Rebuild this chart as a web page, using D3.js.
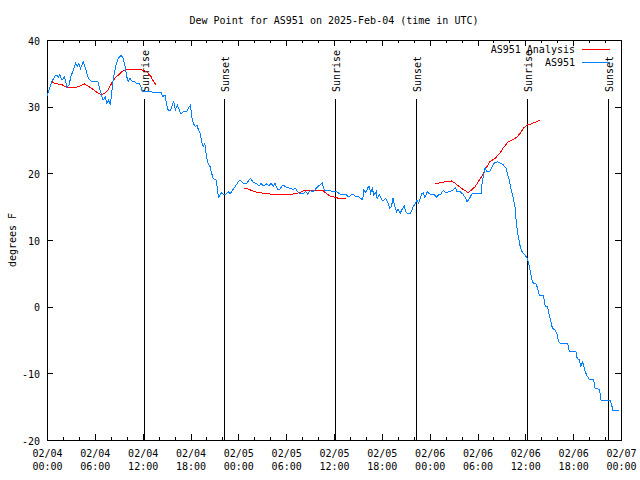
<!DOCTYPE html>
<html><head><meta charset="utf-8">
<script src="https://cdn.jsdelivr.net/npm/d3@7"></script>
<style>
body{margin:0;background:#fff}
svg text{font-family:"DejaVu Sans Mono","Liberation Mono",monospace;font-size:10px;fill:#000}
</style></head><body>
<svg id="c" width="640" height="480"></svg>
<script>
const title = "Dew Point for AS951 on 2025-Feb-04 (time in UTC)";
const yLabel = "degrees F";
const xTickHours = [0,6,12,18,24,30,36,42,48,54,60,66,72];
const xTickDates = ["02/04","02/04","02/04","02/04","02/05","02/05","02/05","02/05","02/06","02/06","02/06","02/06","02/07"];
const xTickTimes = ["00:00","06:00","12:00","18:00","00:00","06:00","12:00","18:00","00:00","06:00","12:00","18:00","00:00"];
const xMinorHours = d3.range(0, 73, 2);
const yTicks = [-20,-10,0,10,20,30,40];
const sunLabels = ["Sunrise","Sunset","Sunrise","Sunset","Sunrise","Sunset"];
const sunHours = [12.22,22.25,36.18,46.3,60.22,70.37];
const seriesNames = ["AS951 Analysis","AS951"];
const seriesColors = ["#ff0000","#0080ff"];

const obsHours = [0.0,0.6,1.0,1.25,1.4,1.6,1.9,2.2,2.5,2.75,3.0,3.3,3.6,3.8,4.0,4.2,4.55,4.77,5.0,5.2,5.6,6.4,6.65,6.9,7.05,7.3,7.5,7.7,7.95,8.1,8.3,8.6,8.95,9.3,9.55,9.8,10.0,10.2,10.4,10.7,11.0,11.25,11.6,11.85,12.0,14.3,14.5,14.8,15.0,15.2,15.5,15.8,15.9,16.1,16.35,16.6,16.8,17.1,17.5,17.85,18.0,18.15,18.35,18.6,18.8,19.0,19.2,19.4,19.6,19.8,20.0,20.2,20.45,20.65,20.85,21.2,21.4,21.5,21.7,21.9,22.1,22.45,22.75,22.95,23.3,23.6,24.0,24.2,24.6,25.05,25.5,25.9,26.3,26.6,26.85,27.1,27.55,27.85,28.1,28.4,28.6,28.9,29.2,29.6,30.05,30.5,30.9,31.2,31.4,31.7,32.15,32.45,32.7,33.0,33.3,33.6,33.95,34.25,34.5,34.8,35.1,35.5,35.9,36.3,36.75,37.1,37.4,37.7,38.0,38.35,38.6,39.05,39.35,39.6,39.75,40.0,40.2,40.4,40.6,40.8,41.0,41.3,41.4,41.7,42.0,42.2,42.5,42.8,43.0,43.2,43.4,43.65,43.85,44.05,44.3,44.5,44.8,45.0,45.3,45.6,45.9,46.2,46.4,46.6,46.8,47.0,47.2,47.4,47.7,48.0,48.25,48.5,48.9,49.1,49.4,49.7,50.05,50.45,50.95,51.25,51.4,51.8,52.15,52.45,52.7,53.0,53.3,53.7,54.45,54.6,54.8,54.95,55.15,55.55,55.8,56.05,56.5,56.8,57.25,57.6,57.8,58.0,58.2,58.45,58.7,58.8,59.0,59.2,59.4,59.65,59.95,60.25,60.5,60.7,60.9,61.35,61.55,61.75,62.25,62.5,62.8,63.0,63.2,63.4,63.7,63.95,64.15,64.35,65.3,65.5,66.35,66.5,66.8,66.95,67.15,67.3,67.5,67.8,68.05,68.55,68.75,69.3,69.5,70.6,70.8,71.0,71.8];
const obsValues = [31.6,33.75,34.6,34.75,34.4,34.75,34.0,34.5,32.9,33.25,34.5,35.5,36.5,36.0,36.5,35.75,36.75,36.0,35.0,34.25,33.75,33.75,32.5,31.5,31.0,31.5,30.5,31.0,30.25,32.0,34.0,36.0,37.25,37.75,37.25,36.0,34.5,33.75,34.25,33.75,33.75,33.5,33.5,32.75,32.25,32.15,31.5,31.75,30.25,29.5,29.5,30.5,30.75,29.5,30.25,29.5,28.9,29.25,29.25,30.0,30.25,28.5,27.5,27.0,27.25,26.5,26.0,24.75,24.0,24.5,22.5,21.5,21.0,20.0,19.25,19.0,17.5,16.4,16.75,17.1,16.9,16.9,17.25,16.9,17.5,18.0,18.75,19.0,18.5,18.5,19.25,18.6,18.5,18.1,18.5,18.1,18.4,18.1,18.5,18.1,18.5,17.6,17.6,18.25,17.9,17.75,17.6,17.75,17.25,17.0,17.0,17.25,16.9,17.4,17.25,17.5,18.0,18.25,18.6,17.4,17.4,17.4,17.25,17.25,16.9,16.75,16.9,16.6,16.6,16.9,16.6,16.5,16.25,16.0,17.5,17.1,17.75,18.1,17.0,17.75,16.75,17.25,16.25,16.75,16.0,15.9,16.25,15.5,14.75,15.0,16.25,15.0,14.25,14.6,14.0,14.5,15.1,14.25,13.9,14.0,14.9,15.5,16.0,15.5,16.25,16.9,17.1,16.4,17.25,16.9,16.75,16.9,16.4,16.75,16.9,17.4,17.1,17.25,17.5,17.85,17.25,17.25,16.9,16.4,15.75,16.25,16.9,17.0,17.0,18.75,20.0,20.9,20.25,20.25,20.9,21.5,21.75,21.6,21.25,20.75,19.75,19.0,17.6,16.5,15.0,13.5,11.25,10.0,8.75,8.1,7.75,7.25,6.0,4.75,3.6,3.4,2.75,1.75,1.75,0.1,0.0,-1.25,-2.25,-3.25,-3.5,-4.0,-5.15,-5.5,-5.5,-6.65,-6.75,-7.75,-8.0,-9.0,-8.25,-8.75,-9.75,-10.5,-10.9,-10.9,-12.25,-12.4,-14.0,-14.0,-14.6,-15.6,-15.6];

const anaHours = [0.6,1.0,1.85,2.5,3.7,4.1,4.7,5.1,5.6,6.0,6.45,6.85,7.3,7.7,8.1,8.5,8.95,9.4,9.8,10.2,11.0,11.9,12.5,13.05,13.3,13.7,
  19,
  24.75,25.25,25.7,26.1,26.6,27.35,28.0,28.6,29.2,29.85,30.5,30.9,31.3,31.75,32.15,32.8,33.4,34.05,34.65,35.1,35.5,36.1,36.6,37.5,
  43,
  48.65,49.3,50.1,50.75,51.2,51.6,52.0,52.45,52.85,53.25,53.7,54.1,54.5,54.95,55.55,56.2,56.8,57.2,57.85,58.5,58.9,59.35,59.75,60.2,60.6,61.2,61.85];
const anaValues = [33.75,33.5,33.3,32.9,32.9,33.1,33.4,33.1,32.75,32.4,32.0,31.75,32.1,32.6,33.5,34.25,34.75,35.25,35.5,35.6,35.6,35.5,35.25,34.5,33.9,33.25,
  null,
  17.75,17.65,17.4,17.25,17.1,17.0,16.9,16.75,16.9,16.9,16.75,16.9,17.0,17.15,17.4,17.4,17.5,17.4,17.4,16.9,16.6,16.4,16.25,16.25,
  null,
  18.4,18.6,18.75,18.85,18.5,18.1,17.75,17.4,17.1,17.5,18.0,18.75,19.5,20.5,21.75,22.25,23.0,23.75,24.75,25.1,25.4,26.0,26.75,27.25,27.35,27.65,28.0];

const L=47, R=621, T=40, B=440;
const svg = d3.select("#c");
const x = d3.scaleLinear().domain([0,72]).range([L,R]);
const y = d3.scaleLinear().domain([-20,40]).range([B,T]);

svg.append("rect").attr("width",640).attr("height",480).attr("fill","#fff");

svg.append("text").attr("x",334).attr("y",24).attr("text-anchor","middle").text(title);
svg.append("text").attr("transform","translate(16,240) rotate(-90)").attr("text-anchor","middle").text(yLabel);

function styleAxis(g){
  g.select(".domain").remove();
  g.selectAll("line").attr("stroke","#000").attr("shape-rendering","crispEdges");
  g.selectAll("text").remove();
}
svg.append("g").attr("transform",`translate(0,${B})`).call(d3.axisBottom(x).tickValues(xMinorHours).tickSize(-3)).call(styleAxis);
svg.append("g").attr("transform",`translate(0,${T})`).call(d3.axisTop(x).tickValues(xMinorHours).tickSize(-3)).call(styleAxis);
const xb = svg.append("g").attr("transform",`translate(0,${B})`).call(d3.axisBottom(x).tickValues(xTickHours).tickSize(-6)).call(styleAxis);
svg.append("g").attr("transform",`translate(0,${T})`).call(d3.axisTop(x).tickValues(xTickHours).tickSize(-6)).call(styleAxis);
xb.selectAll("g.tick").each(function(d,i){
  const t = d3.select(this).append("text").attr("text-anchor","middle").attr("fill","#000");
  t.append("tspan").attr("x",0).attr("y",17).text(xTickDates[i]);
  t.append("tspan").attr("x",0).attr("y",30).text(xTickTimes[i]);
});
const yl = svg.append("g").attr("transform",`translate(${L},0)`).call(d3.axisLeft(y).tickValues(yTicks).tickSize(-6)).call(styleAxis);
svg.append("g").attr("transform",`translate(${R},0)`).call(d3.axisRight(y).tickValues(yTicks).tickSize(-6)).call(styleAxis);
yl.selectAll("g.tick").append("text").attr("x",-7).attr("y",4).attr("text-anchor","end").attr("fill","#000").text(d=>d);

svg.append("rect").attr("x",L+0.5).attr("y",T+0.5).attr("width",R-L).attr("height",B-T)
  .attr("fill","none").attr("stroke","#000").attr("shape-rendering","crispEdges");

sunHours.forEach((h,i)=>{
  const lx = Math.round(x(h))+0.5;
  svg.append("line").attr("x1",lx).attr("x2",lx).attr("y1",99).attr("y2",B)
    .attr("stroke","#000").attr("shape-rendering","crispEdges");
  svg.append("text").attr("transform",`translate(${lx+4.5},92) rotate(-90)`).text(sunLabels[i]);
});

const obs = obsHours.map((h,i)=>({h, v: obsValues[i]}));
const ana = anaHours.map((h,i)=>({h, v: anaValues[i]}));
const line = d3.line().defined(d=>d.v!=null).x(d=>x(d.h)).y(d=>y(d.v));
svg.append("path").datum(ana).attr("d",line).attr("fill","none").attr("stroke",seriesColors[0]).attr("stroke-width",1).attr("shape-rendering","crispEdges");
svg.append("path").datum(obs).attr("d",line).attr("fill","none").attr("stroke",seriesColors[1]).attr("stroke-width",1).attr("shape-rendering","crispEdges");

seriesNames.forEach((n,i)=>{
  const ly = 49 + i*13;
  svg.append("text").attr("x",575).attr("y",ly+4).attr("text-anchor","end").text(n);
  svg.append("line").attr("x1",582).attr("x2",610).attr("y1",ly+0.5).attr("y2",ly+0.5)
    .attr("stroke",seriesColors[i]).attr("shape-rendering","crispEdges");
});
</script>
</body></html>
